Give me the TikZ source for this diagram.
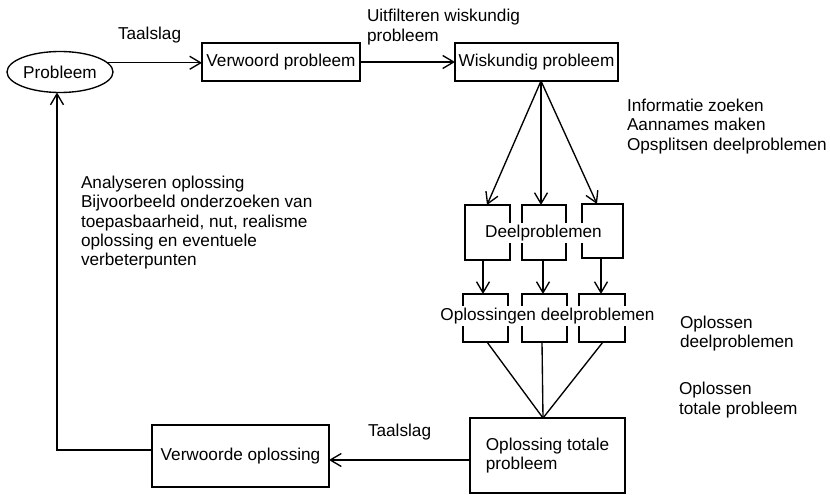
\documentclass[tikz,border=0pt]{standalone}
\usepackage{fontspec}
\setmainfont{Liberation Sans}
\usetikzlibrary{arrows.meta,shapes.geometric}
\begin{document}
\begin{tikzpicture}[x=1pt,y=-1pt,
  font=\fontsize{17.2}{19.3}\selectfont,
  every node/.style={inner sep=0pt, outer sep=0pt},
  wire/.style={line width=1.35pt},
  arr/.style={wire, -{Straight Barb[length=11pt,width=13pt,line width=1.35pt]}},
  box/.style={draw, wire, rectangle},
  lbl/.style={anchor=north west, align=left},
  onewire/.style={anchor=base west},
  cover/.style={fill=white, inner sep=2pt, anchor=base},
]
\useasboundingbox (0,0) rectangle (830,495);

% main chain
\node[draw, wire, ellipse, minimum width=106pt, minimum height=41pt] (P) at (60,72) {Probleem};
\node[box, minimum width=158pt, minimum height=38pt] (VP) at (281,62) {Verwoord probleem};
\node[box, minimum width=163pt, minimum height=38pt] (WP) at (536.5,62) {Wiskundig probleem};

% sub-problem boxes
\node[box, minimum width=45pt, minimum height=55pt] (D1) at (487.5,232.5) {};
\node[box, minimum width=44pt, minimum height=55pt] (D2) at (544,232.5) {};
\node[box, minimum width=41pt, minimum height=54pt] (D3) at (602.5,231) {};
\node[cover] (DT) at (543.5,237.5) {Deelproblemen};

\node[box, minimum width=45pt, minimum height=48pt] (L1) at (485.5,318) {};
\node[box, minimum width=45pt, minimum height=48pt] (L2) at (544.5,318) {};
\node[box, minimum width=46pt, minimum height=48pt] (L3) at (602,318) {};
\node[cover] (LT) at (547.5,320.5) {Oplossingen deelproblemen};

% solution boxes
\node[box, minimum width=155pt, minimum height=75pt, align=left] (OT) at (547.5,455.5) {Oplossing totale\\probleem};
\node[box, minimum width=177pt, minimum height=62pt] (VO) at (240.5,456) {Verwoorde oplossing};

% connectors
\draw[arr] (P.11) -- (P.11 -| VP.west);
\draw[arr] (VP.east) -- (WP.west);

\coordinate (hub) at (WP.south -| 541,0);
\draw[arr] (hub) -- (D1.north -| 487,0);
\draw[arr] (hub) -- (D2.north -| 541,0);
\draw[arr] (hub) -- (D3.north -| 597,0);

\draw[arr] (D1.south -| 483,0) -- (L1.north -| 483,0);
\draw[arr] (D2.south -| 543,0) -- (L2.north -| 543,0);
\draw[arr] (D3.south -| 601,0) -- (L3.north -| 601,0);

\coordinate (join) at (OT.north -| 543,0);
\draw[wire] (L1.south -| 487,0) -- (join);
\draw[wire] (L2.south -| 542,0) -- (join);
\draw[wire] (L3.south -| 603,0) -- (join);

\draw[arr] (OT.west |- 0,460) -- (VO.east |- 0,460);
\draw[arr] (VO.west |- 0,450) -| ([xshift=-3pt]P.south);

% step labels
\node[onewire] (t1) at (118,40) {Taalslag};
\node[lbl] (t2) at (367,9.5) {Uitfilteren wiskundig\\probleem};
\node[lbl] (t3) at (627,99) {Informatie zoeken\\Aannames maken\\Opsplitsen deelproblemen};
\node[lbl] (t4) at (81,176) {Analyseren oplossing\\Bijvoorbeeld onderzoeken van\\toepasbaarheid, nut, realisme\\oplossing en eventuele\\verbeterpunten};
\node[lbl] (t5) at (680,316) {Oplossen\\deelproblemen};
\node[lbl] (t6) at (679,382.5) {Oplossen\\totale probleem};
\node[onewire] (t7) at (368,436.5) {Taalslag};
\end{tikzpicture}
\end{document}
